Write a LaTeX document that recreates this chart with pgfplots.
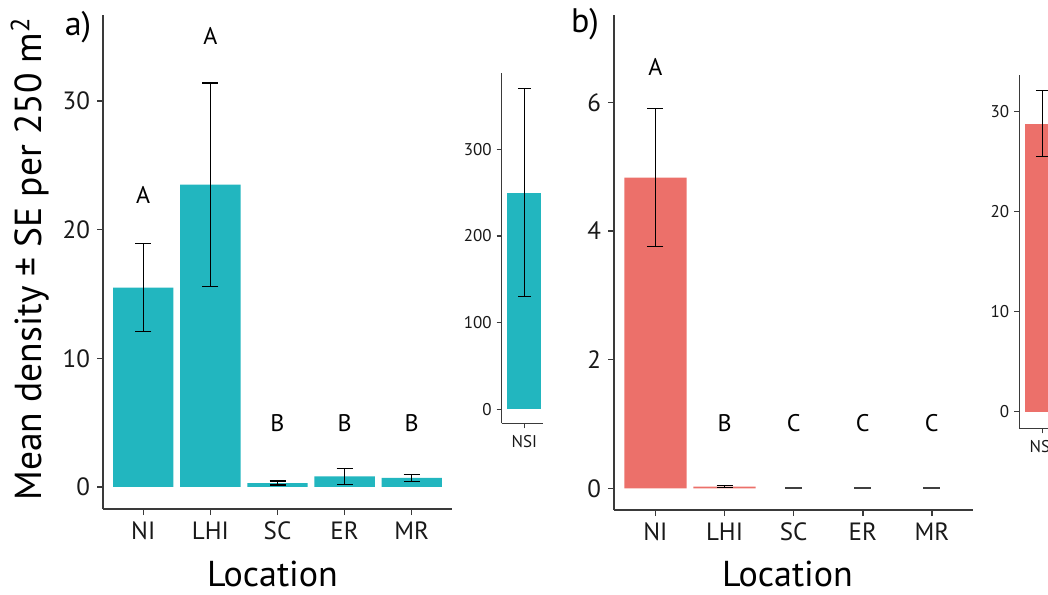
\documentclass[border=0pt]{standalone}
\usepackage{fontspec}
\setmainfont{PT Sans}
\usepackage{pgfplots}
\usepackage{pgfplotstable}
\pgfplotsset{compat=1.18}

\definecolor{tealbar}{HTML}{22B6BF}
\definecolor{redbar}{HTML}{EC706A}
\definecolor{axisgray}{HTML}{3A3A3A}

\pgfplotstableread{
x y err
1 15.5 3.4
2 23.5 7.9
3 0.31 0.16
4 0.83 0.62
5 0.70 0.29
}\dataA
\pgfplotstableread{
x y err
1 250 120
}\insetA
% NI, LHI (bars drawn)
\pgfplotstableread{
x y err
1 4.83 1.07
2 0.025 0.015
}\dataB
% SC, ER, MR (zero means, only the error marks show)
\pgfplotstableread{
x y err
3 0 0
4 0 0
5 0 0
}\dataBzero
\pgfplotstableread{
x y err
1 28.8 3.3
}\insetB

\pgfplotsset{
  gg/.style={
    scale only axis, anchor=south west,
    axis x line*=bottom, axis y line*=left,
    axis line style={line width=0.75pt, axisgray, -},
    tick style={line width=0.75pt, axisgray},
    tick align=outside, major tick length=3pt,
    enlargelimits=false, clip=false,
    ybar, bar width=0.9, bar shift=0pt,
    /pgf/number format/assume math mode=true,
    ticklabel style={font=\fontsize{12.5}{13}\selectfont, text=black!90},
    error bars/error mark=|,
    error bars/error bar style={line width=0.65pt, black},
    error bars/error mark options={line width=0.65pt, black, mark size=4pt},
  },
  inset/.style={
    gg, major tick length=2.5pt,
    ticklabel style={font=\fontsize{8.5}{9}\selectfont, text=black!90},
    yticklabel style={xshift=1pt},
    error bars/error mark options={line width=0.65pt, black, mark size=3.2pt},
  },
}

\begin{document}
\begin{tikzpicture}
\useasboundingbox (0,0) rectangle (524pt,297pt);
\clip (0,0) rectangle (524pt,297pt);

% panel a
\begin{axis}[gg, at={(51.5pt,42.5pt)}, width=174.5pt, height=247pt,
  xmin=0.4, xmax=5.6, ymin=-1.71, ymax=36.68,
  xtick={1,2,3,4,5}, xticklabels={NI,LHI,SC,ER,MR}, ytick={0,10,20,30}]
\addplot[fill=tealbar, draw=none,
  error bars/.cd, y dir=both, y explicit]
  table[x=x, y=y, y error=err] {\dataA};
\node[font=\fontsize{12}{13}\selectfont] at (axis cs:1,22.7) {A};
\node[font=\fontsize{12}{13}\selectfont] at (axis cs:2,35.06) {A};
\node[font=\fontsize{12}{13}\selectfont] at (axis cs:3,5.0) {B};
\node[font=\fontsize{12}{13}\selectfont] at (axis cs:4,5.0) {B};
\node[font=\fontsize{12}{13}\selectfont] at (axis cs:5,5.0) {B};
\end{axis}

\begin{axis}[inset, at={(250.85pt,85.35pt)}, width=20.8pt, height=175.15pt,
  xmin=0.4, xmax=1.5, ymin=-16.15, ymax=388,
  xtick={1}, xticklabels={NSI}, ytick={0,100,200,300}]
\addplot[fill=tealbar, draw=none,
  error bars/.cd, y dir=both, y explicit]
  table[x=x, y=y, y error=err] {\insetA};
\end{axis}

% panel b
\begin{axis}[gg, at={(307pt,42pt)}, width=179.65pt, height=247.5pt,
  xmin=0.4, xmax=5.6, ymin=-0.337, ymax=7.357,
  xtick={1,2,3,4,5}, xticklabels={NI,LHI,SC,ER,MR}, ytick={0,2,4,6}]
\addplot[fill=redbar, draw=none,
  error bars/.cd, y dir=both, y explicit]
  table[x=x, y=y, y error=err] {\dataB};
\addplot[fill=none, draw=none,
  error bars/.cd, y dir=both, y explicit,
  error mark options={line width=0.9pt, black!75, mark size=4.2pt}]
  table[x=x, y=y, y error=err] {\dataBzero};
\node[font=\fontsize{12}{13}\selectfont] at (axis cs:1,6.55) {A};
\node[font=\fontsize{12}{13}\selectfont] at (axis cs:2,1.02) {B};
\node[font=\fontsize{12}{13}\selectfont] at (axis cs:3,1.02) {C};
\node[font=\fontsize{12}{13}\selectfont] at (axis cs:4,1.02) {C};
\node[font=\fontsize{12}{13}\selectfont] at (axis cs:5,1.02) {C};
\end{axis}

\begin{axis}[inset, at={(509.65pt,82.85pt)}, width=23pt, height=176.65pt,
  xmin=0.4, xmax=1.6, ymin=-1.66, ymax=33.67,
  xtick={1}, xticklabels={NSI}, ytick={0,10,20,30}]
\addplot[fill=redbar, draw=none,
  error bars/.cd, y dir=both, y explicit]
  table[x=x, y=y, y error=err] {\insetB};
\end{axis}

% labels
\node[rotate=90, anchor=base, inner sep=0pt, font=\fontsize{18.8}{20}\selectfont] at (21pt,167.5pt)
  {Mean density ± SE per 250 m\textsuperscript{2}};
\node[anchor=base, inner sep=0pt, font=\fontsize{18}{19}\selectfont] at (136.25pt,3.6pt) {Location};
\node[anchor=base, inner sep=0pt, font=\fontsize{18}{19}\selectfont] at (393.75pt,3.6pt) {Location};
\node[font=\fontsize{17}{18}\selectfont] at (39pt,283.5pt) {a)};
\node[font=\fontsize{17}{18}\selectfont] at (292.5pt,285pt) {b)};
\end{tikzpicture}
\end{document}
